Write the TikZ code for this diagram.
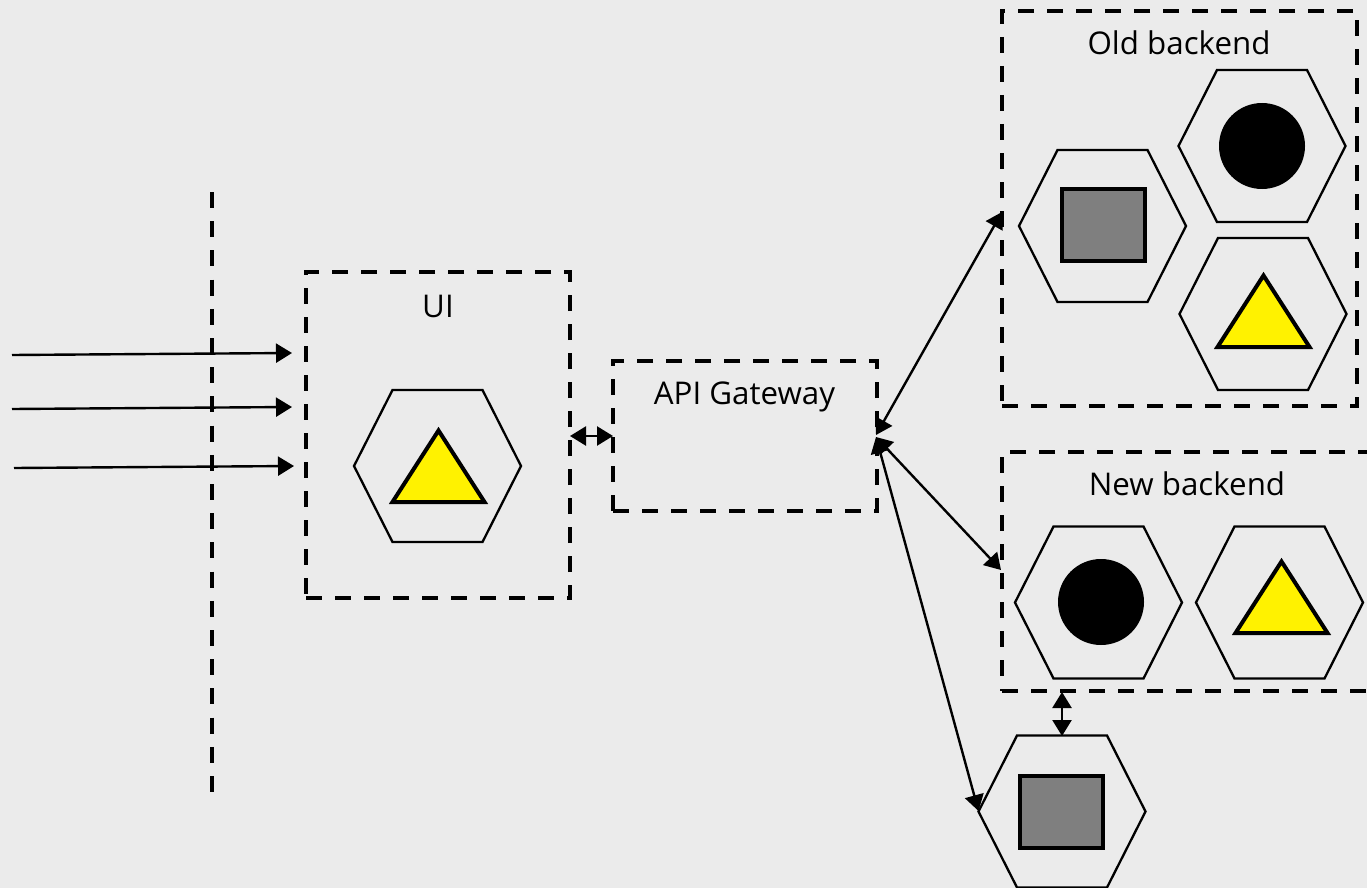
\documentclass[tikz,border=0pt]{standalone}
\usepackage{fontspec}
\setmainfont{Open Sans}
\usetikzlibrary{arrows.meta}
\definecolor{bgc}{HTML}{EBEBEB}
\definecolor{tri}{HTML}{FFF200}
\definecolor{sq}{HTML}{7F7F7F}
\tikzset{
  dashbox/.style={draw=black,line width=4pt,dash pattern=on 16pt off 13pt,rectangle,inner sep=0pt},
  boundary/.style={draw=black,line width=4pt,dash pattern=on 16pt off 13.2pt},
  hexline/.style={draw=black,line width=2.3pt,line join=miter},
  label/.style={inner sep=0pt,font=\fontsize{31.3}{36}\selectfont,text=black},
  conn/.style={draw=black,line width=2.4pt,{Triangle[length=16pt,width=19pt]}-{Triangle[length=16pt,width=19pt]}},
  inflow/.style={draw=black,line width=2.4pt,-{Triangle[length=16pt,width=19pt]}},
  hexanchor/.style={inner sep=0pt,minimum width=167pt,minimum height=152pt},
  sqicon/.style={draw=black,line width=4pt,fill=sq,inner sep=0pt,minimum width=83pt,minimum height=72pt},
  circicon/.style={circle,fill=black,inner sep=0pt,minimum size=86pt},
}
\newcommand{\hexa}[3]{%
  \node[hexanchor] (#1) at (#2,#3) {};
  \begin{scope}[shift={(#2,#3)}]
    \draw[hexline] (-83.5,0)--(-45,-76)--(45,-76)--(83.5,0)--(45,76)--(-45,76)--cycle;
  \end{scope}}
\newcommand{\triicon}[2]{%
  \begin{scope}[shift={(#1,#2)}]
    \draw[line width=4pt,fill=tri,line join=miter] (1,-38)--(47,33.5)--(-45,33.5)--cycle;
  \end{scope}}
\begin{document}
\begin{tikzpicture}[x=1pt,y=-1pt]
\path[use as bounding box,fill=bgc] (0,0) rectangle (1367,888);

% boundary line
\coordinate (bTop) at (212,192);
\coordinate (bBot) at (212,792);
\draw[boundary] (bTop) -- (bBot);

% boxes
\node[dashbox,minimum width=264pt,minimum height=326pt] (ui) at (438,435) {};
\node[dashbox,minimum width=264pt,minimum height=150pt] (api) at (745,436) {};
\node[dashbox,minimum width=355pt,minimum height=395pt] (old) at (1179.5,208.5) {};
\node[dashbox,minimum width=400pt,minimum height=239pt] (new) at (1202,571.5) {};

% labels
\node[label] (uil) at (438,306) {UI};
\node[label] (apil) at (744.5,397) {API Gateway};
\node[label] (oldl) at (1179,43) {Old backend};
\node[label] (newl) at (1187,484) {New backend};

% hexagons
\hexa{hUI}{437.5}{466}
\hexa{hOC}{1262}{146}
\hexa{hOS}{1102.5}{226}
\hexa{hOT}{1263}{314}
\hexa{hNC}{1098.5}{602.5}
\hexa{hNT}{1279.5}{602.5}
\hexa{hBS}{1062}{811.5}

% icons
\triicon{437.5}{468.5}
\triicon{1262.5}{313.5}
\triicon{1280.5}{599.5}
\node[circicon] (cO) at (1262,146) {};
\node[circicon] (cN) at (1101,602) {};
\node[sqicon] (sO) at (1103.5,225) {};
\node[sqicon] (sB) at (1061.5,812) {};

% free ends and attachment points
\coordinate (i1) at (12,355);
\coordinate (i2) at (12,409);
\coordinate (i3) at (14,468);
\coordinate (ui1) at (292,353);
\coordinate (ui2) at (292,407);
\coordinate (ui3) at (294,466);
\coordinate (uiR) at (570,436);
\coordinate (apiL) at (613,436);
\coordinate (apiA) at (876,435);
\coordinate (apiB) at (876,437);
\coordinate (oldL) at (1002,212);
\coordinate (newL) at (1001,570);
\coordinate (newB) at (1062,692);
\coordinate (hexT) at (1062,736);
\coordinate (hexL) at (978.5,811);

% connectors
\draw[inflow] (i1) -- (ui1);
\draw[inflow] (i2) -- (ui2);
\draw[inflow] (i3) -- (ui3);
\draw[conn] (uiR) -- (apiL);
\draw[conn] (apiA) -- (oldL);
\draw[conn] (apiB) -- (newL);
\draw[conn] (apiB) -- (hexL);
\draw[conn] (newB) -- (hexT);
\end{tikzpicture}
\end{document}
